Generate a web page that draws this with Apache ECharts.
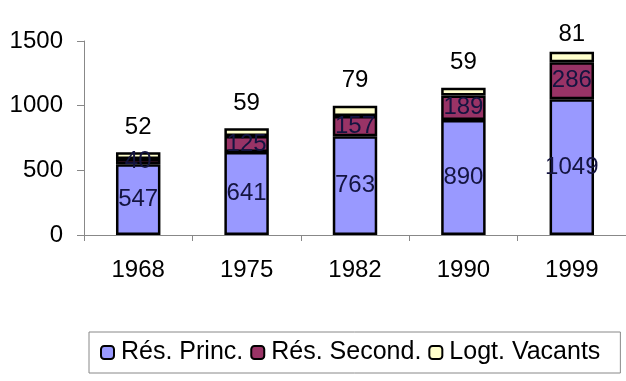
<!DOCTYPE html>
<html><head><meta charset="utf-8">
<script src="https://cdn.jsdelivr.net/npm/echarts@6/dist/echarts.min.js"></script>
<style>html,body{margin:0;padding:0;background:#fff}#c{width:626px;height:381px}</style>
</head><body><div id="c"></div>
<script>
const categories = ['1968','1975','1982','1990','1999'];
const resPrinc = [547, 641, 763, 890, 1049];
const resSecond = [40, 125, 157, 189, 286];
const logtVacants = [52, 59, 79, 59, 81];
const yTicks = [0, 500, 1000, 1500];

const font = 'Liberation Sans, Arial, sans-serif';
const chart = echarts.init(document.getElementById('c'));
const inLabel = {show:true, position:'inside', color:'#141440', fontSize:24, fontFamily:font};
chart.setOption({
  animation:false,
  grid:{left:84, top:41, width:553, bottom:146},
  legend:{
    top:332, left:89, itemWidth:13, itemHeight:13, itemGap:7,
    padding:[8,20,8,11],
    borderColor:'#888', borderWidth:1,
    textStyle:{fontSize:25, fontFamily:font, color:'#000', padding:[0,0,0,2]},
    data:['Rés. Princ.','Rés. Second.','Logt. Vacants']
  },
  xAxis:{type:'category', data:categories,
    axisLine:{lineStyle:{color:'#888', width:1}},
    axisTick:{show:true, length:6, lineStyle:{color:'#888'}},
    axisLabel:{color:'#000', fontSize:24, fontFamily:font, margin:23}},
  yAxis:{type:'value', min:yTicks[0], max:yTicks[yTicks.length-1], interval:500,
    splitLine:{show:false},
    axisLine:{show:true, lineStyle:{color:'#888'}},
    axisTick:{show:true, length:7, lineStyle:{color:'#888'}},
    axisLabel:{color:'#000', fontSize:24, fontFamily:font, margin:21, formatter:v=>String(v)}},
  series:[
    {name:'Rés. Princ.', type:'bar', stack:'a', barWidth:'41%', data:resPrinc,
     itemStyle:{color:'#9999ff', borderColor:'#000', borderWidth:2.5}, label:inLabel},
    {name:'Rés. Second.', type:'bar', stack:'a', data:resSecond,
     itemStyle:{color:'#993366', borderColor:'#000', borderWidth:2.5}, label:inLabel},
    {name:'Logt. Vacants', type:'bar', stack:'a',
     data:logtVacants.map((v,i)=> i===logtVacants.length-1 ? {value:v, label:{distance:5}} : v),
     itemStyle:{color:'#ffffcc', borderColor:'#000', borderWidth:2.5},
     label:{show:true, position:'top', distance:13, color:'#000', fontSize:24, fontFamily:font}}
  ]
});
</script></body></html>
